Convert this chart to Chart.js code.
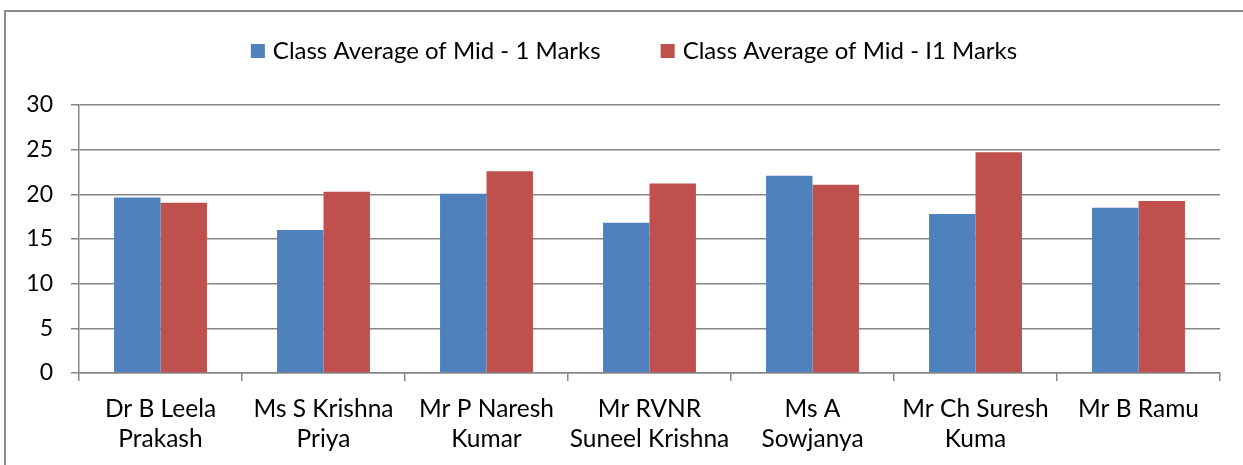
<!DOCTYPE html>
<html>
<head>
<meta charset="utf-8">
<script src="https://cdn.jsdelivr.net/npm/chart.js@4/dist/chart.umd.min.js"></script>
<style>
    html, body { margin: 0; padding: 0; background: #fff; overflow: hidden; }
    #marco { position: absolute; left: 4px; top: 10px; width: 1260px; height: 480px; border: 2px solid #8a8a8a; }
    #lienzo { position: absolute; left: 0; top: 0; }
</style>
</head>
<body>
<div id="marco"></div>
<canvas id="lienzo" width="1243" height="465"></canvas>
<script>
"use strict"

// Datos
const profesores = [
    ["Dr B Leela", "Prakash"],
    ["Ms S Krishna", "Priya"],
    ["Mr P Naresh", "Kumar"],
    ["Mr RVNR", "Suneel Krishna"],
    ["Ms A", "Sowjanya"],
    ["Mr Ch Suresh", "Kuma"],
    ["Mr B Ramu"]
];
const mid1 = [19.65, 16.0, 20.06, 16.82, 22.07, 17.79, 18.5];
const mid2 = [19.05, 20.28, 22.59, 21.21, 21.06, 24.71, 19.24];
const series = ["Class Average of Mid - 1 Marks", "Class Average of Mid - I1 Marks"];
const ticksY = [0, 5, 10, 15, 20, 25, 30];

const fuente = "Lato";
const gris = '#868686';

// Leyenda dibujada a mano (el espacio entre items es muy ancho)
const leyenda = {
    id: 'leyenda',
    afterDraw(chart) {
        const ctx = chart.ctx;
        ctx.save();
        ctx.font = `24px ${fuente}`;
        ctx.textBaseline = 'middle';
        ctx.textAlign = 'left';
        const items = chart.data.datasets.map(d => ({ texto: d.label, color: d.backgroundColor }));
        const caja = 14, hueco = 8, separacion = 60;
        let total = 0;
        items.forEach((it, i) => {
            it.ancho = ctx.measureText(it.texto).width;
            total += caja + hueco + it.ancho + (i > 0 ? separacion : 0);
        });
        let x = 634 - total / 2;
        const y = 51;
        items.forEach(it => {
            ctx.fillStyle = it.color;
            ctx.fillRect(x, y - 7, caja, caja);
            x += caja + hueco;
            ctx.fillStyle = '#000';
            ctx.fillText(it.texto, x, y);
            x += it.ancho + separacion;
        });
        ctx.restore();
    }
};

document.addEventListener('DOMContentLoaded', e => {
    const ctx = document.getElementById('lienzo');

    new Chart(ctx, {
        type: 'bar',
        data: {
            labels: profesores,
            datasets: [
                { label: series[0], data: mid1, backgroundColor: '#4F81BD' },
                { label: series[1], data: mid2, backgroundColor: '#C0504D' }
            ]
        },
        options: {
            responsive: false,
            animation: false,
            layout: { padding: { top: 105, right: 23, bottom: 0, left: 0 } },
            datasets: {
                bar: { categoryPercentage: 0.57, barPercentage: 1.0 }
            },
            plugins: {
                legend: { display: false },
                tooltip: { enabled: false }
            },
            scales: {
                x: {
                    offset: true,
                    grid: { offset: true, drawOnChartArea: false, drawTicks: true, tickLength: 8, color: gris, lineWidth: 1.5 },
                    border: { display: true, color: gris, width: 1.5 },
                    ticks: { color: '#000', padding: 13, maxRotation: 0, autoSkip: false, font: { family: fuente, size: 24.5, lineHeight: 30 / 24.5 } },
                    afterFit: s => { s.height = 92; }
                },
                y: {
                    min: 0,
                    max: 30,
                    afterBuildTicks: s => { s.ticks = ticksY.map(v => ({ value: v })); },
                    grid: { color: gris, lineWidth: 1.5, tickLength: 8 },
                    border: { display: true, color: gris, width: 1.5 },
                    ticks: { color: '#000', padding: 18, font: { family: fuente, size: 23 } },
                    afterFit: s => { s.width = 79; }
                }
            }
        },
        plugins: [leyenda]
    });
});
</script>
</body>
</html>
